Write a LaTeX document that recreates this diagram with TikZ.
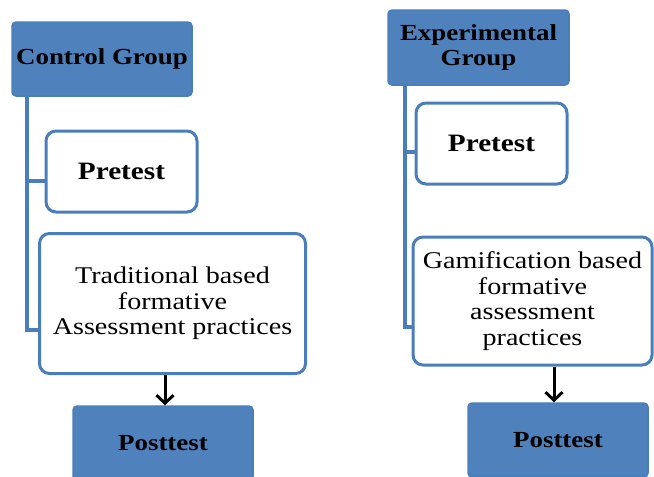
\documentclass[tikz,border=0pt]{standalone}
\usepackage{fontspec}
\setmainfont{Liberation Serif}[FakeStretch=1.17]
\usetikzlibrary{arrows.meta}
\definecolor{boxblue}{HTML}{4F81BD}
\definecolor{edgeblue}{HTML}{4A7EBB}
\tikzset{
  hdbox/.style={draw=edgeblue, fill=boxblue, line width=1.5pt, rounded corners=4pt, align=center, inner sep=0pt, font=\fontsize{23}{25}\selectfont\bfseries},
  wbox/.style={draw=edgeblue, fill=white, line width=3pt, rounded corners=10pt, align=center, inner sep=0pt, font=\fontsize{24}{25.5}\selectfont},
  tree/.style={draw=edgeblue, line width=4pt},
  arr/.style={draw=black, line width=3pt, -{Straight Barb[length=8pt,width=17pt,line width=3pt]}}
}
\begin{document}
\begin{tikzpicture}[x=1pt,y=1pt]
\useasboundingbox (0,0) rectangle (654,-477);
% left column
\node[hdbox, minimum width=180pt, minimum height=74pt] (ctrl) at (102,-59) {Control Group};
\node[wbox, minimum width=151pt, minimum height=81pt, font=\fontsize{25}{27}\selectfont\bfseries] (pretL) at (121.5,-171.5) {Pretest};
\node[wbox, minimum width=266pt, minimum height=140pt] (trad) at (172.5,-303.5) {Traditional based\\formative\\Assessment practices};
\node[hdbox, minimum width=180pt, minimum height=74pt] (postL) at (163,-443) {Posttest};
% right column
\node[hdbox, minimum width=181pt, minimum height=75pt] (exp) at (478.5,-47.5) {Experimental\\Group};
\node[wbox, minimum width=151pt, minimum height=81pt, font=\fontsize{25}{27}\selectfont\bfseries] (pretR) at (491.5,-143.5) {Pretest};
\node[wbox, minimum width=239pt, minimum height=128pt] (gam) at (532.5,-301) {Gamification based\\formative\\assessment\\practices};
\node[hdbox, minimum width=180pt, minimum height=74pt] (postR) at (558,-440) {Posttest};
% tree connectors left
\coordinate (sL) at (27,-97);
\coordinate (bL1) at (27,-181);
\coordinate (bL2) at (27,-330);
\draw[tree] (sL) -- (bL2) -- (bL2 -| trad.west);
\draw[tree] (bL1) -- (bL1 -| pretL.west);
% tree connectors right
\coordinate (sR) at (405,-86);
\coordinate (bR1) at (405,-152);
\coordinate (bR2) at (405,-327);
\draw[tree] (sR) -- (bR2) -- (bR2 -| gam.west);
\draw[tree] (bR1) -- (bR1 -| pretR.west);
% arrows
\coordinate (aL) at (165,-375);
\coordinate (aR) at (554,-367);
\draw[arr] (aL) -- (aL |- postL.north);
\draw[arr] (aR) -- (aR |- postR.north);
\end{tikzpicture}
\end{document}
